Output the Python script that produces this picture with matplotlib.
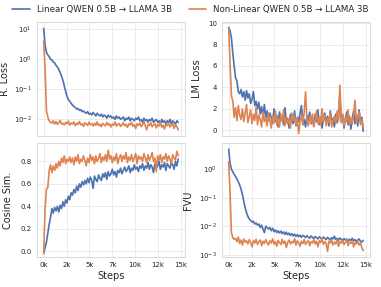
import numpy as np
import matplotlib
matplotlib.use("Agg")
import matplotlib.pyplot as plt
import seaborn as sns
from matplotlib.ticker import FuncFormatter

steps = np.arange(0, 14850, 150)

lin_rloss = [10.5, 3.0, 1.7, 1.4, 1.2, 1.0, 0.95, 0.8, 0.75, 0.62,
             0.55, 0.45, 0.36, 0.27, 0.2, 0.13, 0.085, 0.058, 0.045, 0.04,
             0.034, 0.03, 0.027, 0.025, 0.022, 0.023, 0.02, 0.021, 0.018, 0.019, 0.017,
             0.016, 0.018, 0.015, 0.016, 0.014, 0.017, 0.015, 0.013, 0.016, 0.014,
             0.013, 0.015, 0.012, 0.014, 0.013, 0.011, 0.014, 0.012, 0.013, 0.011,
             0.012, 0.010, 0.013, 0.011, 0.012, 0.010, 0.011, 0.012, 0.009, 0.011,
             0.010, 0.012, 0.009, 0.011, 0.010, 0.009, 0.011, 0.010, 0.012, 0.009,
             0.010, 0.008, 0.011, 0.009, 0.010, 0.008, 0.010, 0.009, 0.011, 0.008,
             0.009, 0.010, 0.008, 0.009, 0.007, 0.010, 0.008, 0.009, 0.007, 0.009,
             0.008, 0.010, 0.007, 0.009, 0.008, 0.007, 0.009, 0.008]
nonlin_rloss = [4.0, 0.5, 0.02, 0.012, 0.009,
                0.008, 0.0075, 0.009, 0.007, 0.0085, 0.0068, 0.0078, 0.0092, 0.007, 0.0075,
                0.0065, 0.008, 0.0072, 0.0088, 0.0064, 0.0076, 0.007, 0.0082, 0.0062, 0.0074,
                0.0068, 0.0085, 0.0066, 0.0072, 0.0058, 0.0078, 0.0069, 0.0063, 0.0081, 0.0067,
                0.0072, 0.0060, 0.0075, 0.0064, 0.0083, 0.0062, 0.0070, 0.0057, 0.0074, 0.0066,
                0.0061, 0.0079, 0.0065, 0.0072, 0.0056, 0.0070, 0.0064, 0.0082, 0.0060, 0.0068,
                0.0073, 0.0058, 0.0066, 0.0078, 0.0061, 0.0069, 0.0054, 0.0072, 0.0065, 0.0080,
                0.0059, 0.0067, 0.0050, 0.0071, 0.0063, 0.0076, 0.0058, 0.0066, 0.0085, 0.0061,
                0.0045, 0.0069, 0.0062, 0.0078, 0.0057, 0.0066, 0.0072, 0.0052, 0.0068, 0.0060,
                0.0079, 0.0055, 0.0065, 0.0048, 0.0070, 0.0062, 0.0075, 0.0056, 0.0064, 0.0072,
                0.0050, 0.0066, 0.0058, 0.0045]

lin_lm = [9.6, 9.3, 8.6, 7.2, 6.0, 4.9, 4.6, 3.6, 3.4, 3.8,
          3.1, 3.6, 2.8, 3.7, 3.0, 3.4, 2.5, 2.9, 3.6, 2.3,
          2.7, 2.0, 2.6, 1.5, 2.2, 1.3, 2.4, 1.1, 1.8, 0.9, 1.6,
          1.2, 0.6, 2.0, 0.8, 1.4, 0.3, 1.7, 0.9, 1.3, 0.5,
          2.1, 0.7, 1.1, 0.2, 1.5, 1.0, 0.6, 1.8, 0.4, 1.2,
          0.8, 1.6, 2.3, 0.5, 1.0, 0.3, 1.4, 0.9, 1.7, 0.6,
          1.1, 0.4, 1.5, 0.8, 1.9, 0.5, 1.2, 0.2, 1.0, 1.6,
          0.7, 1.3, 0.4, 1.8, 0.9, 1.1, 0.3, 1.5, 0.7, 1.2,
          3.5, 0.8, 1.4, 0.2, 1.0, 1.7, 0.5, 1.3, 0.1, 1.1,
          1.8, 0.6, 1.4, 0.4, 1.9, 0.8, 1.2, -0.1]
nonlin_lm = [9.5, 6.2, 3.2, 2.7, 1.2, 2.1, 0.9, 2.3, 1.4, 1.0,
             2.0, 0.8, 1.6, 2.4, 0.7, 1.3, 1.9, 0.6, 1.5, 0.9, 2.2,
             0.5, 1.4, 1.0, 0.3, 1.7, 0.8, 1.2, 0.4, 1.6, 0.9,
             0.2, 1.3, 0.7, 1.8, 0.5, 1.1, 0.3, 1.5, 0.8, 1.9,
             0.4, 1.2, 0.6, 1.0, 0.2, 1.6, 0.9, 1.3, 0.5, 1.1,
             -0.3, 0.8, 1.4, 0.6, 1.7, 3.6, 0.9, 0.4, 1.3, 0.7,
             1.5, 0.3, 1.0, 1.8, 0.6, 1.2, 0.5, 2.0, 0.8, 1.4,
             0.4, 1.1, 0.7, 1.6, 0.3, 1.0, 1.3, 0.6, 1.8, 0.9,
             4.2, 0.7, 1.5, 0.4, 1.2, 0.8, 1.9, 0.5, 1.1, 0.6,
             1.4, 2.8, 0.7, 1.2, 1.7, 0.5, 1.0, 0.3]

lin_cos = [-0.02, 0.03, 0.08, 0.16, 0.24, 0.30, 0.38, 0.34, 0.39, 0.36,
           0.40, 0.35, 0.41, 0.38, 0.44, 0.40, 0.46, 0.43, 0.49, 0.46,
           0.52, 0.50, 0.55, 0.52, 0.58, 0.54, 0.60, 0.57, 0.62, 0.59, 0.63,
           0.60, 0.65, 0.61, 0.66, 0.63, 0.56, 0.67, 0.64, 0.62, 0.68,
           0.65, 0.63, 0.69, 0.66, 0.70, 0.64, 0.71, 0.67, 0.69, 0.73,
           0.68, 0.71, 0.66, 0.72, 0.70, 0.74, 0.69, 0.72, 0.75, 0.71,
           0.73, 0.76, 0.70, 0.74, 0.72, 0.77, 0.73, 0.75, 0.71, 0.76,
           0.74, 0.78, 0.72, 0.76, 0.74, 0.79, 0.73, 0.77, 0.75, 0.70,
           0.78, 0.74, 0.76, 0.80, 0.73, 0.77, 0.75, 0.79, 0.72, 0.78,
           0.76, 0.74, 0.79, 0.77, 0.73, 0.80, 0.76, 0.82]
nonlin_cos = [-0.02, 0.38, 0.55, 0.57, 0.72, 0.77, 0.70, 0.76, 0.72, 0.78,
              0.74, 0.80, 0.76, 0.83, 0.79, 0.85, 0.78, 0.82, 0.80, 0.84,
              0.79, 0.83, 0.77, 0.84, 0.80, 0.86, 0.78, 0.82, 0.80, 0.85,
              0.81, 0.76, 0.83, 0.79, 0.86, 0.81, 0.84, 0.78, 0.85, 0.80,
              0.83, 0.87, 0.79, 0.84, 0.81, 0.86, 0.80, 0.90, 0.82, 0.85,
              0.79, 0.84, 0.81, 0.87, 0.78, 0.83, 0.86, 0.80, 0.85, 0.82,
              0.88, 0.79, 0.84, 0.81, 0.86, 0.80, 0.83, 0.87, 0.78, 0.85,
              0.82, 0.84, 0.80, 0.87, 0.83, 0.79, 0.86, 0.81, 0.84, 0.88,
              0.80, 0.83, 0.71, 0.85, 0.81, 0.86, 0.79, 0.84, 0.82, 0.87,
              0.80, 0.85, 0.82, 0.78, 0.86, 0.83, 0.81, 0.89, 0.85]

lin_fvu = [5.0, 1.6, 1.0, 0.8, 0.65, 0.55, 0.45, 0.36, 0.28, 0.2,
           0.13, 0.075, 0.045, 0.03, 0.022, 0.018, 0.016, 0.014, 0.015, 0.012,
           0.013, 0.011, 0.012, 0.009, 0.011, 0.008, 0.006, 0.010, 0.009, 0.008, 0.009,
           0.007, 0.0085, 0.0065, 0.0075, 0.006, 0.007, 0.0058, 0.0068, 0.0055, 0.0064,
           0.0052, 0.0062, 0.005, 0.0058, 0.0048, 0.0055, 0.0046, 0.0053, 0.0044, 0.0051,
           0.0043, 0.0049, 0.0041, 0.0048, 0.0045, 0.004, 0.0047, 0.0042, 0.0038, 0.0046,
           0.0041, 0.0037, 0.0044, 0.004, 0.0036, 0.0043, 0.0039, 0.0035, 0.0042, 0.0038,
           0.0034, 0.0041, 0.0037, 0.0033, 0.004, 0.0036, 0.0045, 0.0034, 0.0038, 0.0032,
           0.0039, 0.0035, 0.0031, 0.0037, 0.0033, 0.0036, 0.003, 0.0035, 0.0032, 0.0038,
           0.0031, 0.0034, 0.0029, 0.0033, 0.0036, 0.003, 0.0028, 0.0032]
nonlin_fvu = [1.8, 0.15, 0.006, 0.004, 0.0035,
              0.0038, 0.0029, 0.0042, 0.0025, 0.0033, 0.0022, 0.0036, 0.0028, 0.0031, 0.0024,
              0.0034, 0.0027, 0.0019, 0.0032, 0.0026, 0.0035, 0.0023, 0.0029, 0.0033, 0.0021,
              0.0030, 0.0025, 0.0034, 0.0027, 0.0022, 0.0031, 0.0026, 0.0036, 0.0024, 0.0029,
              0.0020, 0.0032, 0.0027, 0.0023, 0.0035, 0.0025, 0.0030, 0.0018, 0.0028, 0.0033,
              0.0024, 0.0029, 0.0026, 0.0037, 0.0022, 0.0031, 0.0027, 0.0020, 0.0030, 0.0025,
              0.0034, 0.0023, 0.0028, 0.0032, 0.0021, 0.0029, 0.0026, 0.0035, 0.0024, 0.0030,
              0.0019, 0.0031, 0.0027, 0.0038, 0.0023, 0.0029, 0.0025, 0.0013, 0.0030, 0.0026,
              0.0033, 0.0022, 0.0028, 0.0024, 0.0034, 0.0020, 0.0029, 0.0026, 0.0031, 0.0023,
              0.0027, 0.0035, 0.0021, 0.0028, 0.0025, 0.0032, 0.0019, 0.0027, 0.0024, 0.0030,
              0.0022, 0.0026, 0.0018, 0.0014]

labels = ["Linear QWEN 0.5B → LLAMA 3B", "Non-Linear QWEN 0.5B → LLAMA 3B"]
xticks = [0, 2500, 5000, 7500, 10000, 12500, 15000]

sns.set_theme(style="whitegrid")
plt.rcParams["font.family"] = ["DejaVu Sans"]
blue, orange = sns.color_palette("deep")[:2]

fig, axes = plt.subplots(2, 2, figsize=(3.81, 2.87), dpi=100, sharex=True)
fig.subplots_adjust(left=0.097, right=0.971, top=0.923, bottom=0.105,
                    wspace=0.25, hspace=0.06)

# axes, linear, non-linear, ylabel, log?, ylim, ylabel x (axes coords)
panels = [
    (axes[0, 0], lin_rloss, nonlin_rloss, "R. Loss", True, (0.0028, 17), -0.18),
    (axes[0, 1], lin_lm, nonlin_lm, "LM Loss", False, (-0.55, 10.1), -0.137),
    (axes[1, 0], lin_cos, nonlin_cos, "Cosine Sim.", False, (-0.05, 0.965), -0.165),
    (axes[1, 1], lin_fvu, nonlin_fvu, "FVU", True, (0.00085, 8.3), -0.198),
]

for ax, a, b, name, logy, lim, lx in panels:
    ax.plot(steps, a, color=blue, lw=1.2, label=labels[0])
    ax.plot(steps, b, color=orange, lw=1.2, label=labels[1])
    if logy:
        ax.set_yscale("log")
    ax.set_ylim(*lim)
    ax.set_ylabel(name, fontsize=7)
    ax.yaxis.set_label_coords(lx, 0.5)
    ax.tick_params(which="both", labelsize=5, pad=3.5, length=0)
    ax.grid(True, which="major", color="#ebebeb", lw=0.7)
    ax.grid(False, which="minor")
    for s in ax.spines.values():
        s.set_color("#d9d9d9")
        s.set_linewidth(0.7)

ax = axes[1, 0]
ax.set_xticks(xticks)
ax.xaxis.set_major_formatter(FuncFormatter(lambda v, p: f"{int(v / 1000)}k"))
ax.set_xlim(-735, 15435)
axes[1, 0].set_xlabel("Steps", fontsize=7, labelpad=2)
axes[1, 1].set_xlabel("Steps", fontsize=7, labelpad=2)
axes[0, 1].set_yticks([0, 2, 4, 6, 8, 10])
axes[1, 0].set_yticks([0.0, 0.2, 0.4, 0.6, 0.8])

h, l = axes[0, 0].get_legend_handles_labels()
fig.legend(h, l, loc="upper center", bbox_to_anchor=(0.5, 1.01), ncol=2,
           frameon=False, fontsize=6.2, handlelength=2.0, columnspacing=2.0,
           handletextpad=0.8)

fig.savefig("out.png", dpi=100)
